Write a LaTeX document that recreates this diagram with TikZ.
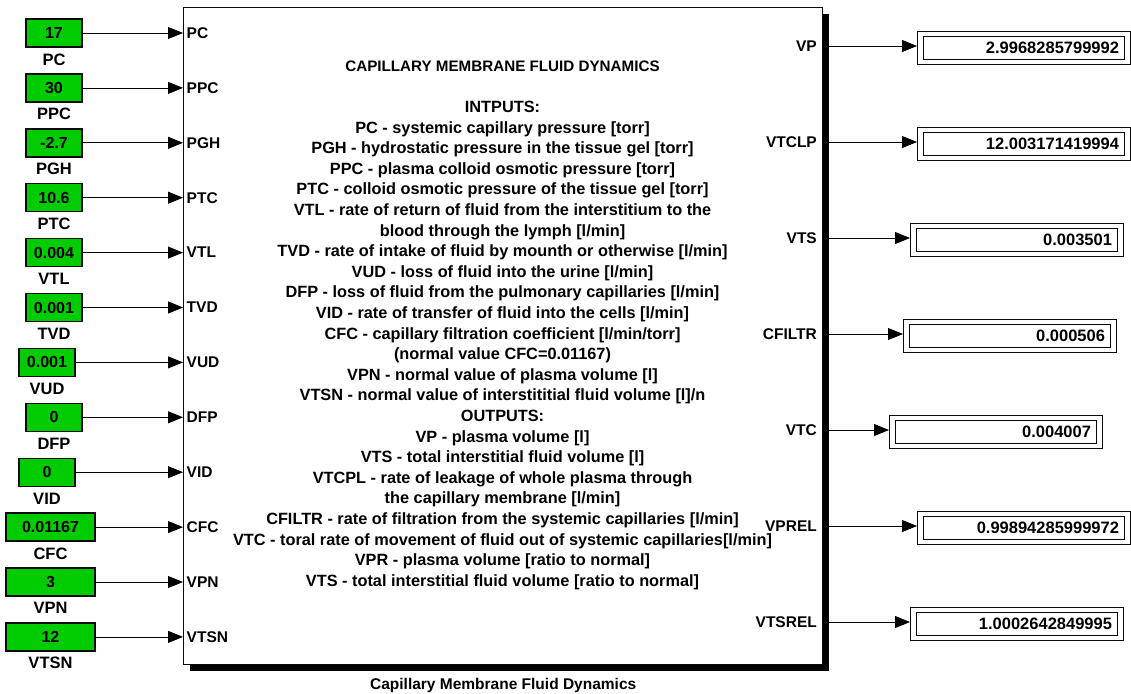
\documentclass[tikz,border=0pt]{standalone}
\usepackage{fontspec}
\setmainfont{Liberation Sans}
\usepackage{tikz}
\usetikzlibrary{positioning, arrows.meta, shadows}
\definecolor{constgreen}{RGB}{0, 204, 0}
\definecolor{darkline}{RGB}{10, 10, 10}
\newcommand{\blockfont}{\fontsize{15.5}{20.6}\selectfont\bfseries}

\begin{document}
\begin{tikzpicture}[x=1pt, y=-1pt,
		constblock/.style={rectangle, draw=darkline, line width=1.4pt, fill=constgreen, minimum width=56pt, minimum height=28pt, inner sep=0pt, outer sep=0pt, font=\fontsize{16}{20}\selectfont\bfseries},
		constname/.style={inner sep=0pt, outer sep=0pt, font=\fontsize{16.5}{20}\selectfont\bfseries},
		port/.style={inner sep=0pt, font=\blockfont},
		display/.style={rectangle, draw=darkline, line width=0.9pt, minimum width=213pt, minimum height=33pt, text width=191pt, align=right, inner xsep=11pt, inner ysep=0pt, outer sep=0pt, anchor=west, font=\fontsize{16.5}{18}\selectfont\bfseries},
		sig/.style={line width=0.8pt, -{Triangle[length=15pt, width=12pt]}}]
	\useasboundingbox (0,0) rectangle (1131,693);

	\node[rectangle, draw=darkline, fill=white, line width=1.4pt, minimum width=639pt, minimum height=657pt, anchor=north west, drop shadow={shadow xshift=6pt, shadow yshift=-6pt, fill=black, opacity=1}] (cmfd) at (183,7) {};
	\node[constname, font=\blockfont, below=13pt of cmfd] (cmfdname) {Capillary Membrane Fluid Dynamics};

	\node[anchor=north, inner sep=0pt, align=center, font=\fontsize{16.3}{20.6}\selectfont\bfseries] (desc) at (502.5,60.5) {%
		{\fontsize{15.2}{20.6}\selectfont CAPILLARY MEMBRANE FLUID DYNAMICS}\\[20.6pt]
		INTPUTS:\\
		PC - systemic capillary pressure [torr]\\
		PGH - hydrostatic pressure in the tissue gel [torr]\\
		PPC - plasma colloid osmotic pressure [torr]\\
		PTC - colloid osmotic pressure of the tissue gel [torr]\\
		VTL - rate of return of fluid from the interstitium to the\\
		blood through the lymph [l/min]\\
		TVD - rate of intake of fluid by mounth or otherwise [l/min]\\
		VUD - loss of fluid into the urine [l/min]\\
		DFP - loss of fluid from the pulmonary capillaries [l/min]\\
		VID - rate of transfer of fluid into the cells [l/min]\\
		CFC - capillary filtration coefficient [l/min/torr]\\
		(normal value CFC=0.01167)\\
		VPN - normal value of plasma volume [l]\\
		VTSN - normal value of interstititial fluid volume [l]/n\\
		OUTPUTS:\\
		VP - plasma volume [l]\\
		VTS - total interstitial fluid volume [l]\\
		VTCPL - rate of leakage of whole plasma through\\
		the capillary membrane [l/min]\\
		CFILTR - rate of filtration from the systemic capillaries [l/min]\\
		VTC - toral rate of movement of fluid out of systemic capillaries[l/min]\\
		VPR - plasma volume [ratio to normal]\\
		VTS - total interstitial fluid volume [ratio to normal]};

	\node[constblock] (pc) at (54,33) {17};
	\node[constblock] (ppc) at (54,87.9) {30};
	\node[constblock] (pgh) at (54,142.8) {-2.7};
	\node[constblock] (ptc) at (54,197.7) {10.6};
	\node[constblock] (vtl) at (54,252.6) {0.004};
	\node[constblock] (tvd) at (54,307.5) {0.001};
	\node[constblock] (vud) at (47,362.4) {0.001};
	\node[constblock] (dfp) at (54,417.3) {0};
	\node[constblock] (vid) at (47,472.2) {0};
	\node[constblock, minimum width=89pt] (cfc) at (50.5,527.1) {0.01167};
	\node[constblock, minimum width=89pt] (vpn) at (50.5,582) {3};
	\node[constblock, minimum width=89pt] (vtsn) at (50.5,636.9) {12};

	\node[constname, below=6.5pt of pc] (pcname) {PC};
	\node[constname, below=6.5pt of ppc] (ppcname) {PPC};
	\node[constname, below=6.5pt of pgh] (pghname) {PGH};
	\node[constname, below=6.5pt of ptc] (ptcname) {PTC};
	\node[constname, below=6.5pt of vtl] (vtlname) {VTL};
	\node[constname, below=6.5pt of tvd] (tvdname) {TVD};
	\node[constname, below=6.5pt of vud] (vudname) {VUD};
	\node[constname, below=6.5pt of dfp] (dfpname) {DFP};
	\node[constname, below=6.5pt of vid] (vidname) {VID};
	\node[constname, below=6.5pt of cfc] (cfcname) {CFC};
	\node[constname, below=6.5pt of vpn] (vpnname) {VPN};
	\node[constname, below=6.5pt of vtsn] (vtsnname) {VTSN};

	\node[port, anchor=west] (inpc) at (186.5,33) {PC};
	\node[port, anchor=west] (inppc) at (186.5,87.9) {PPC};
	\node[port, anchor=west] (inpgh) at (186.5,142.8) {PGH};
	\node[port, anchor=west] (inptc) at (186.5,197.7) {PTC};
	\node[port, anchor=west] (invtl) at (186.5,252.6) {VTL};
	\node[port, anchor=west] (intvd) at (186.5,307.5) {TVD};
	\node[port, anchor=west] (invud) at (186.5,362.4) {VUD};
	\node[port, anchor=west] (indfp) at (186.5,417.3) {DFP};
	\node[port, anchor=west] (invid) at (186.5,472.2) {VID};
	\node[port, anchor=west] (incfc) at (186.5,527.1) {CFC};
	\node[port, anchor=west] (invpn) at (186.5,582) {VPN};
	\node[port, anchor=west] (invtsn) at (186.5,636.9) {VTSN};

	\draw[sig] (pc.east) -- (pc.east -| cmfd.west);
	\draw[sig] (ppc.east) -- (ppc.east -| cmfd.west);
	\draw[sig] (pgh.east) -- (pgh.east -| cmfd.west);
	\draw[sig] (ptc.east) -- (ptc.east -| cmfd.west);
	\draw[sig] (vtl.east) -- (vtl.east -| cmfd.west);
	\draw[sig] (tvd.east) -- (tvd.east -| cmfd.west);
	\draw[sig] (vud.east) -- (vud.east -| cmfd.west);
	\draw[sig] (dfp.east) -- (dfp.east -| cmfd.west);
	\draw[sig] (vid.east) -- (vid.east -| cmfd.west);
	\draw[sig] (cfc.east) -- (cfc.east -| cmfd.west);
	\draw[sig] (vpn.east) -- (vpn.east -| cmfd.west);
	\draw[sig] (vtsn.east) -- (vtsn.east -| cmfd.west);

	\node[port, anchor=east] (outvp) at (817,46) {VP};
	\node[port, anchor=east] (outvtclp) at (817,142) {VTCLP};
	\node[port, anchor=east] (outvts) at (817,238) {VTS};
	\node[port, anchor=east] (outcfiltr) at (817,334) {CFILTR};
	\node[port, anchor=east] (outvtc) at (817,430) {VTC};
	\node[port, anchor=east] (outvprel) at (817,526) {VPREL};
	\node[port, anchor=east] (outvtsrel) at (817,622) {VTSREL};

	\node[display] (vpdisp) at (917,47.5) {2.9968285799992};
	\node[display] (vtclpdisp) at (917,143.5) {12.003171419994};
	\node[display] (vtsdisp) at (910,239.5) {0.003501};
	\node[display] (cfiltrdisp) at (903,335.5) {0.000506};
	\node[display] (vtcdisp) at (889,431.5) {0.004007};
	\node[display] (vpreldisp) at (917,527.5) {0.99894285999972};
	\node[display] (vtsreldisp) at (910,623.5) {1.0002642849995};

	% inner frame of each display
	\foreach \disp in {vpdisp, vtclpdisp, vtsdisp, cfiltrdisp, vtcdisp, vpreldisp, vtsreldisp}
		\draw[darkline, line width=0.9pt] ([xshift=6pt, yshift=-5pt]\disp.north west) rectangle ([xshift=-6pt, yshift=5pt]\disp.south east);

	\draw[sig] (outvp.east -| cmfd.east) -- (outvp.east -| vpdisp.west);
	\draw[sig] (outvtclp.east -| cmfd.east) -- (outvtclp.east -| vtclpdisp.west);
	\draw[sig] (outvts.east -| cmfd.east) -- (outvts.east -| vtsdisp.west);
	\draw[sig] (outcfiltr.east -| cmfd.east) -- (outcfiltr.east -| cfiltrdisp.west);
	\draw[sig] (outvtc.east -| cmfd.east) -- (outvtc.east -| vtcdisp.west);
	\draw[sig] (outvprel.east -| cmfd.east) -- (outvprel.east -| vpreldisp.west);
	\draw[sig] (outvtsrel.east -| cmfd.east) -- (outvtsrel.east -| vtsreldisp.west);
\end{tikzpicture}
\end{document}
